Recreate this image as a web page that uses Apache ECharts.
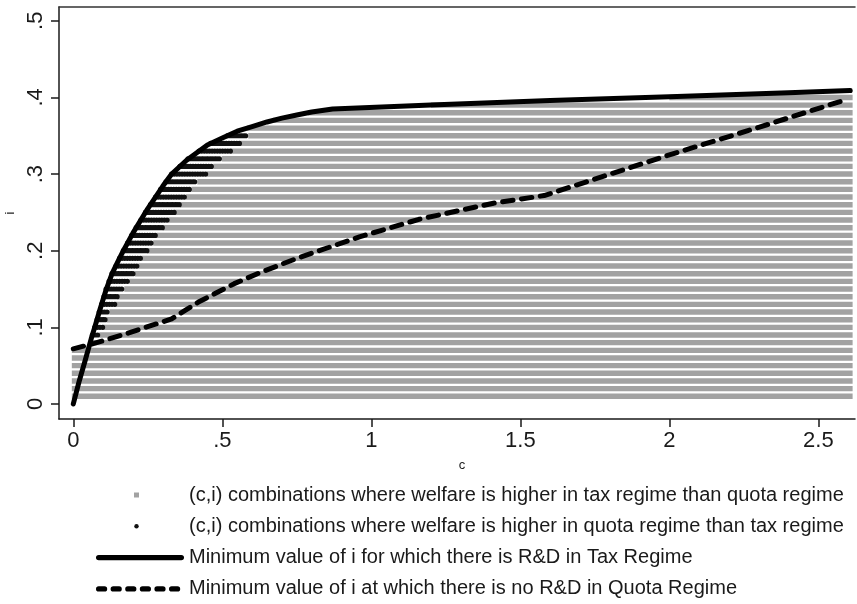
<!DOCTYPE html>
<html>
<head>
<meta charset="utf-8">
<script src="https://cdn.jsdelivr.net/npm/echarts@6/dist/echarts.min.js"></script>
<style>
html,body{margin:0;padding:0;background:#fff;}
#chart{width:857px;height:604px;}
</style>
</head>
<body>
<div id="chart"></div>
<script>
// ---- Data ----
// Tick values / labels
const xTickValues = [0, 0.5, 1, 1.5, 2, 2.5];
const xTickLabels = ['0', '.5', '1', '1.5', '2', '2.5'];
const yTickValues = [0, 0.1, 0.2, 0.3, 0.4, 0.5];
const yTickLabels = ['0', '.1', '.2', '.3', '.4', '.5'];

// Solid curve: minimum i for R&D in tax regime
const taxC = [0, 0.02, 0.04, 0.06, 0.072, 0.09, 0.11, 0.13, 0.15, 0.168, 0.2, 0.25, 0.3, 0.33, 0.38, 0.45, 0.5, 0.55, 0.6, 0.65, 0.7, 0.75, 0.8, 0.87, 1.2, 1.6, 2.0, 2.4, 2.607];
const taxI = [0, 0.03, 0.057, 0.085, 0.1, 0.124, 0.149, 0.17, 0.186, 0.2, 0.223, 0.255, 0.284, 0.3, 0.318, 0.338, 0.347, 0.356, 0.362, 0.368, 0.373, 0.377, 0.381, 0.385, 0.39, 0.396, 0.401, 0.406, 0.409];

// Dashed curve: minimum i with no R&D in quota regime
const quotaC = [0, 0.07, 0.18, 0.33, 0.42, 0.54, 0.63, 0.75, 0.96, 1.16, 1.41, 1.58, 1.77, 2.0, 2.3, 2.6];
const quotaI = [0.072, 0.079, 0.092, 0.111, 0.133, 0.157, 0.172, 0.19, 0.218, 0.241, 0.262, 0.272, 0.296, 0.325, 0.361, 0.398];

// Rows of (c,i) grid points: i levels and where the tax-better (grey) region starts
const rowLevels = [0.01, 0.02, 0.03, 0.04, 0.05, 0.06, 0.07, 0.08, 0.09, 0.10,
                   0.11, 0.12, 0.13, 0.14, 0.15, 0.16, 0.17, 0.18, 0.19, 0.20,
                   0.21, 0.22, 0.23, 0.24, 0.25, 0.26, 0.27, 0.28, 0.29, 0.30,
                   0.31, 0.32, 0.33, 0.34, 0.35, 0.36, 0.37, 0.38, 0.39, 0.40];
const taxBetterStart = [-0.005, -0.005, -0.005, -0.005, -0.005, -0.005, -0.005, 0.056, 0.087, 0.099,
                        0.112, 0.121, 0.14, 0.148, 0.171, 0.188, 0.207, 0.218, 0.229, 0.248,
                        0.268, 0.28, 0.30, 0.319, 0.339, 0.358, 0.378, 0.397, 0.416, 0.448,
                        0.47, 0.498, 0.528, 0.559, 0.587, 0.583, 0.67, 0.787, 1.2, 2.0];
const gridEndC = 2.615;

// Rows where quota regime is better (black dots): i level, start c, end c
const quotaRowLevels = [0.09, 0.10, 0.11, 0.12, 0.13, 0.14, 0.15, 0.16, 0.17, 0.18,
                        0.19, 0.20, 0.21, 0.22, 0.23, 0.24, 0.25, 0.26, 0.27, 0.28,
                        0.29, 0.30, 0.31, 0.32, 0.33, 0.34, 0.35];
const quotaBetterStart = [0.064, 0.072, 0.08, 0.087, 0.095, 0.103, 0.11, 0.12, 0.13, 0.143,
                          0.155, 0.168, 0.182, 0.196, 0.211, 0.227, 0.242, 0.259, 0.276, 0.293,
                          0.311, 0.33, 0.358, 0.385, 0.422, 0.461, 0.517];
const quotaBetterEnd = [0.087, 0.099, 0.112, 0.121, 0.14, 0.148, 0.171, 0.188, 0.207, 0.218,
                        0.229, 0.248, 0.268, 0.28, 0.30, 0.319, 0.339, 0.358, 0.378, 0.397,
                        0.416, 0.448, 0.47, 0.498, 0.528, 0.559, 0.587];

const legendNames = [
  '(c,i) combinations where welfare is higher in tax regime than quota regime',
  '(c,i) combinations where welfare is higher in quota regime than tax regime',
  'Minimum value of i for which there is R&D in Tax Regime',
  'Minimum value of i at which there is no R&D in Quota Regime'
];

// ---- Build series data ----
const greyRows = rowLevels.map((lv, k) => [taxBetterStart[k], gridEndC, lv]);
const blackRows = quotaRowLevels.map((lv, k) => [quotaBetterStart[k], quotaBetterEnd[k], lv]);
const taxLine = taxC.map((c, k) => [c, taxI[k]]);
const quotaLine = quotaC.map((c, k) => [c, quotaI[k]]);

function rowRenderer(color, width, dash, cap) {
  return function (params, api) {
    const p1 = api.coord([api.value(0), api.value(2)]);
    const p2 = api.coord([api.value(1), api.value(2)]);
    return {
      type: 'line',
      silent: true,
      shape: { x1: p1[0], y1: p1[1], x2: p2[0], y2: p2[1] },
      style: { stroke: color, lineWidth: width, lineDash: dash, lineCap: cap, fill: null }
    };
  };
}

// legend icon helpers (88 x 14 box; leading moves fix the bounding box)
const ICON_W = 88, ICON_H = 14;
function capsule(x0, x1, yc, h) {
  const r = h / 2, t = yc - r, b = yc + r;
  return `M${x0 + r},${t} L${x1 - r},${t} A${r},${r} 0 0,1 ${x1 - r},${b} L${x0 + r},${b} A${r},${r} 0 0,1 ${x0 + r},${t} Z`;
}
const boxPrefix = `M0,0 M${ICON_W},${ICON_H} `;
const solidIcon = 'path://' + boxPrefix + capsule(0, 88, 7, 5.4);
let dashPath = '';
for (let k = 0; k < 6; k++) { const s = k * 14.6; dashPath += capsule(s, s + 11.2, 7, 5.4) + ' '; }
const dashIcon = 'path://' + boxPrefix + dashPath;

const FONT = 'Liberation Sans, Arial, Helvetica, sans-serif';
const INK = '#1a1a1a';
const GREY = '#a2a2a2';

const chart = echarts.init(document.getElementById('chart'), null, { renderer: 'canvas' });
chart.setOption({
  animation: false,
  backgroundColor: '#fff',
  textStyle: { fontFamily: FONT },
  grid: { left: 59, right: 2, top: 7, bottom: 185, containLabel: false, outerBoundsMode: 'none' },
  xAxis: [{
    type: 'value', min: -0.048, max: 2.623,
    name: 'c', nameLocation: 'middle', nameGap: 40,
    nameTextStyle: { fontSize: 13, color: INK, fontFamily: FONT, padding: [0, 0, 0, 10] },
    axisLine: { show: true, onZero: false, lineStyle: { color: INK, width: 1.5 } },
    axisTick: { show: true, length: 8, customValues: xTickValues, lineStyle: { color: INK, width: 1.5 } },
    axisLabel: {
      show: true, margin: 11, fontSize: 22, color: INK, fontFamily: FONT,
      customValues: xTickValues,
      formatter: v => xTickLabels[xTickValues.findIndex(t => Math.abs(t - v) < 1e-9)] ?? ''
    },
    splitLine: { show: false }
  }, {
    type: 'value', position: 'top', min: -0.048, max: 2.623,
    axisLine: { show: true, onZero: false, lineStyle: { color: '#333', width: 1.5 } },
    axisTick: { show: false }, axisLabel: { show: false }, splitLine: { show: false }
  }],
  yAxis: {
    type: 'value', min: -0.0196, max: 0.518,
    name: 'i', nameLocation: 'middle', nameGap: 34, nameRotate: 90,
    nameTextStyle: { fontSize: 13, color: INK, fontFamily: FONT },
    axisLine: { show: true, onZero: false, lineStyle: { color: INK, width: 1.5 } },
    axisTick: { show: true, length: 8, customValues: yTickValues, lineStyle: { color: INK, width: 1.5 } },
    axisLabel: {
      show: true, rotate: 90, margin: 12, fontSize: 22, color: INK, fontFamily: FONT,
      customValues: yTickValues,
      formatter: v => yTickLabels[yTickValues.findIndex(t => Math.abs(t - v) < 1e-9)] ?? ''
    },
    splitLine: { show: false }
  },
  legend: {
    orient: 'vertical', left: 96, top: 485, padding: 0,
    itemWidth: ICON_W, itemHeight: ICON_H, itemGap: 11.3,
    textStyle: { fontSize: 20, color: INK, fontFamily: FONT },
    selectedMode: false,
    data: [
      { name: legendNames[0], icon: 'path://' + boxPrefix + 'M38,4.5 L43,4.5 L43,9.5 L38,9.5 Z' },
      { name: legendNames[1], icon: 'path://' + boxPrefix + 'M38.3,7 A2.2,2.2 0 1,1 42.7,7 A2.2,2.2 0 1,1 38.3,7 Z' },
      { name: legendNames[2], icon: solidIcon },
      { name: legendNames[3], icon: dashIcon }
    ]
  },
  series: [
    {
      name: legendNames[0], type: 'custom', xAxisIndex: 0, yAxisIndex: 0,
      itemStyle: { color: GREY },
      encode: { x: [0, 1], y: 2 },
      renderItem: rowRenderer(GREY, 5.4, null, 'butt'),
      data: greyRows, z: 2
    },
    {
      name: legendNames[1], type: 'custom', xAxisIndex: 0, yAxisIndex: 0,
      itemStyle: { color: '#111' },
      encode: { x: [0, 1], y: 2 },
      renderItem: rowRenderer('#111', 5.2, [0.01, 2.6], 'round'),
      data: blackRows, z: 3
    },
    {
      name: legendNames[2], type: 'line', xAxisIndex: 0, yAxisIndex: 0,
      symbol: 'none', smooth: false, z: 5,
      itemStyle: { color: '#000' },
      lineStyle: { color: '#000', width: 5, cap: 'round', join: 'round' },
      data: taxLine
    },
    {
      name: legendNames[3], type: 'line', xAxisIndex: 0, yAxisIndex: 0,
      symbol: 'none', smooth: false, z: 6,
      itemStyle: { color: '#000' },
      lineStyle: { color: '#000', width: 5, type: [10.5, 8.5], cap: 'round', join: 'round' },
      data: quotaLine
    }
  ]
});
</script>
</body>
</html>
